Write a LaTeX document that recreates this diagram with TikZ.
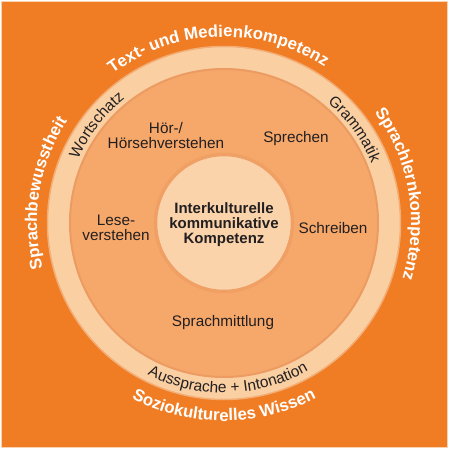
\documentclass[tikz,border=0pt]{standalone}
\usepackage{fontspec}
\setmainfont{Liberation Sans}
\usetikzlibrary{decorations.text}
\definecolor{bgorange}{HTML}{F07D24}
\definecolor{edgepale}{HTML}{F9D2B2}
\definecolor{ringcol}{HTML}{FAD0A3}
\definecolor{ringedge}{HTML}{F3AE78}
\definecolor{diskcol}{HTML}{F6A86A}
\definecolor{diskedge}{HTML}{EC9B62}
\definecolor{centercol}{HTML}{FAD3AB}
\definecolor{centeredge}{HTML}{F0A064}
\definecolor{darktext}{HTML}{231F20}
\newcommand\mywhitearc{\fontsize{16.8}{18}\selectfont\bfseries}
\newcommand\mydarkarc{\fontsize{15.5}{17}\selectfont}
\tikzset{
  disc/.style={circle, inner sep=0pt, outer sep=0pt},
  label/.style={text=darktext, font=\fontsize{15.3}{15}\selectfont, align=center, inner sep=0pt},
  corelabel/.style={text=darktext, font=\fontsize{15}{15}\selectfont\bfseries, align=center, inner sep=0pt},
  whitearc/.style={decorate, decoration={text along path, text={|\mywhitearc|#1}, text align=center, text color=white}},
  darkarc/.style={decorate, decoration={text along path, text={|\mydarkarc|#1}, text align=center, text color=darktext}}
}
\begin{document}
\begin{tikzpicture}[x=1pt,y=1pt]
\useasboundingbox (-224,-226) rectangle (225,223);
\fill[white] (-224,-226) rectangle (225,223);
\filldraw[fill=bgorange, draw=edgepale, line width=1pt] (-222.5,-224.5) rectangle (223.5,221.5);
% rings
\node[disc, fill=ringcol, draw=ringedge, line width=1.5pt, minimum size=353pt] (ring) at (0,0) {};
\node[disc, fill=diskcol, draw=diskedge, line width=2pt, minimum size=308pt] (disk) at (0,0) {};
\node[disc, fill=centercol, draw=centeredge, line width=3.5pt, minimum size=137pt] (core) at (0,0) {};
% outer white labels
\path[whitearc={Text- und Medienkompetenz}] (152:186) arc[start angle=152, end angle=32, radius=186];
\path[whitearc={Sprachlernkompetenz}] (69.5:187) arc[start angle=69.5, end angle=-50.5, radius=187];
\path[whitearc={Sprachbewusstheit}] (230.5:187) arc[start angle=230.5, end angle=110.5, radius=187];
\path[whitearc={Soziokulturelles Wissen}] (210:198) arc[start angle=210, end angle=330, radius=198];
% ring labels
\path[darkarc={Wortschatz}] (202.5:159) arc[start angle=202.5, end angle=82.5, radius=159];
\path[darkarc={Grammatik}] (95.75:159) arc[start angle=95.75, end angle=-24.25, radius=159];
\path[darkarc={Aussprache + Intonation}] (211.5:170) arc[start angle=211.5, end angle=331.5, radius=170];
% inner labels
\node[label] (hoer) at (-58,87) {Hör-/\\Hörsehverstehen};
\node[label] (sprechen) at (72,84) {Sprechen};
\node[label] (lese) at (-108,-5) {Lese-\\verstehen};
\node[label] (schreiben) at (109,-5) {Schreiben};
\node[label] (mittlung) at (-1,-100) {Sprachmittlung};
\node[corelabel] (ikk) at (0,-2) {Interkulturelle\\kommunikative\\Kompetenz};
\end{tikzpicture}
\end{document}
